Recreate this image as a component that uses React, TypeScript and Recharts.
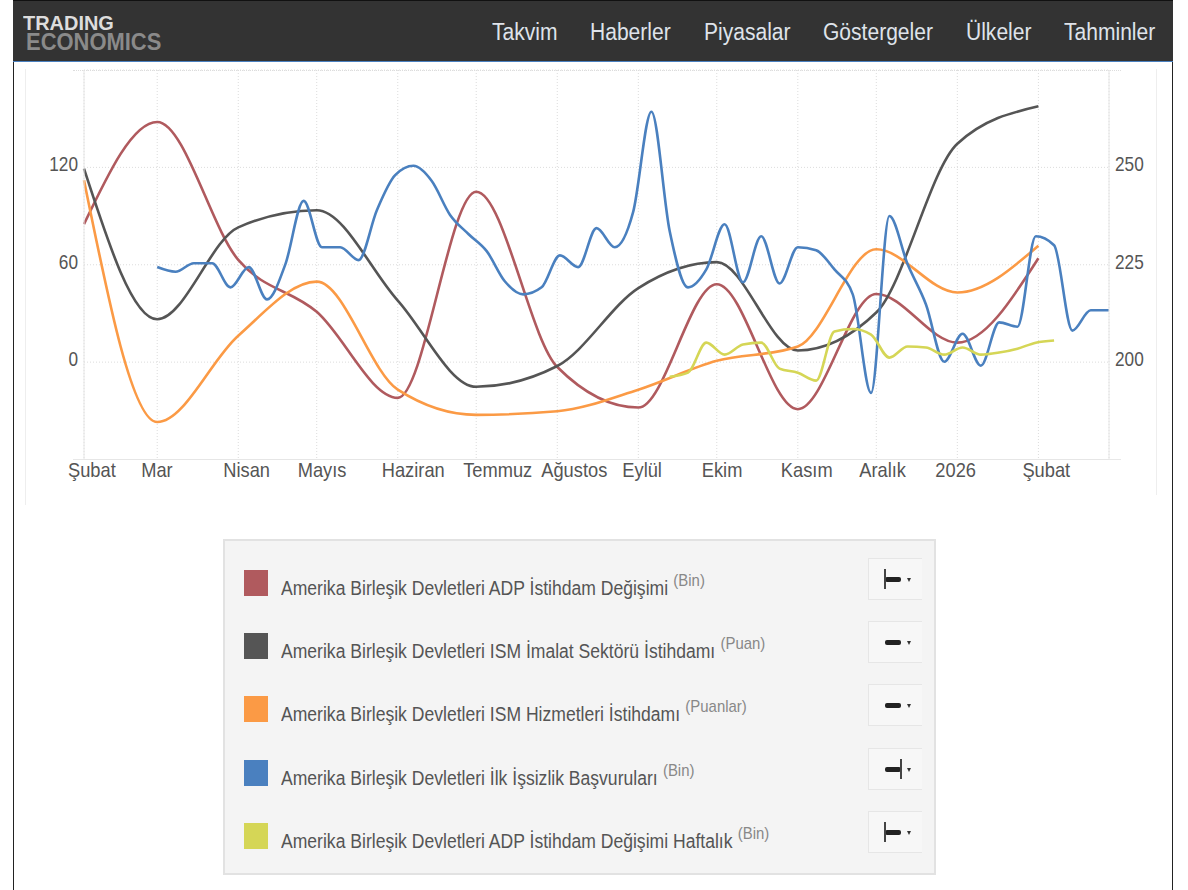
import { LineChart, Line, XAxis, YAxis, CartesianGrid } from 'recharts';

const FONT = '"Liberation Sans", Arial, sans-serif';

// days since 1 Feb 2025
const monthDays = [0, 28, 59, 89, 120, 150, 181, 212, 242, 273, 303, 334, 365];
const monthLabels = ['Şubat', 'Mar', 'Nisan', 'Mayıs', 'Haziran', 'Temmuz', 'Ağustos', 'Eylül', 'Ekim', 'Kasım', 'Aralık', '2026', 'Şubat'];
// the site's labels don't sit at a constant distance from their ticks
const labelNudge = [0, 0, 1, -3, 0, 3, 0, 0, 1, -1, -1, -6, 0];

const adpChange = [85, 148, 63, 31, -22, 105, -3, -28, 48, -29, 42, 12, 64];
const ismManufacturing = [47.6, 44.7, 46.47, 46.8, 45.06, 43.4, 43.8, 45.3, 45.8, 44.1, 44.83, 48.08, 48.8];
const ismServices = [53.52, 46.8, 49.2, 50.7, 47.7, 47.0, 47.1, 47.7, 48.5, 48.9, 51.6, 50.4, 51.7];

// weekly, from 1 Mar 2025
const claims = [
  224.4, 223.2, 225.4, 225.4, 219.2, 224.4, 216.1, 225.1, 241.4, 229.5, 229.5, 226.2, 239, 248, 250.4, 246.5, 237.8,
  232.9, 228.5, 220.7, 217.4, 219.2, 227.4, 224.4, 234.4, 229.5, 238.5, 264.3, 233.6, 219.2, 223.8, 235.4, 220.5,
  232.3, 220.2, 229.5, 228.7, 223.8, 217.4, 192.1, 237.5, 225.1, 214.8, 200.1, 207.3, 199.1, 210.2, 209.1, 232.3,
  230, 208.1, 213.3, 213.3,
];

// weekly, starts at the 29th week of the claims list
const adpWeekly = [-9, -6.5, 12, 4.6, 10.8, 12, -4, -6.5, -11.4, 18.9, 20.4, 17, 2.8, 9.6, 9, 4.6, 9, 4.6, 5.9, 8.3, 12, 13.3];

const navItems = ['Takvim', 'Haberler', 'Piyasalar', 'Göstergeler', 'Ülkeler', 'Tahminler'];
const navLeft = [492, 590, 704, 823, 966, 1064];

const legendNames = [
  'Amerika Birleşik Devletleri ADP İstihdam Değişimi',
  'Amerika Birleşik Devletleri ISM İmalat Sektörü İstihdamı',
  'Amerika Birleşik Devletleri ISM Hizmetleri İstihdamı',
  'Amerika Birleşik Devletleri İlk İşsizlik Başvuruları',
  'Amerika Birleşik Devletleri ADP İstihdam Değişimi Haftalık',
];
const legendUnits = ['(Bin)', '(Puan)', '(Puanlar)', '(Bin)', '(Bin)'];
const legendColors = ['#b05a5e', '#555555', '#fb9a45', '#4a80bf', '#d5d656'];
const legendPins = ['left', 'none', 'none', 'right', 'left'];

const monthly = (values: number[]) => values.map((v, i) => ({ day: monthDays[i], v }));
const weekly = (values: number[], startWeek = 0) => values.map((v, i) => ({ day: 28 + (startWeek + i) * 7, v }));

function XTick({ x, y, payload }: any) {
  const i = monthDays.indexOf(payload.value);
  return (
    <text transform={`translate(${x - 16 + labelNudge[i]},${y + 9}) scale(0.87,1)`} fontFamily={FONT} fontSize={21} fill="#555">
      {monthLabels[i]}
    </text>
  );
}

function LeftTick({ x, y, payload }: any) {
  if (payload.value === 180 || payload.value === -60) return null;
  return (
    <text transform={`translate(${x + 2},${y + 4}) scale(0.82,1)`} textAnchor="end" fontFamily={FONT} fontSize={21} fill="#555">
      {payload.value}
    </text>
  );
}

function RightTick({ x, y, payload }: any) {
  return (
    <text transform={`translate(${x - 2},${y + 4}) scale(0.82,1)`} fontFamily={FONT} fontSize={21} fill="#555">
      {payload.value}
    </text>
  );
}

function Pin({ kind }: { kind: string }) {
  return (
    <div style={{ position: 'absolute', left: 15, top: 0, width: 40, height: 41 }}>
      <div style={{ position: 'absolute', left: 1, top: 18, width: 16, height: 5, borderRadius: 2, background: '#222' }} />
      {kind === 'left' && <div style={{ position: 'absolute', left: 0, top: 10, width: 2, height: 20, background: '#444' }} />}
      {kind === 'right' && <div style={{ position: 'absolute', left: 16, top: 10, width: 2, height: 20, background: '#444' }} />}
      <div
        style={{
          position: 'absolute',
          left: 23,
          top: 19,
          width: 0,
          height: 0,
          borderLeft: '2.5px solid transparent',
          borderRight: '2.5px solid transparent',
          borderTop: '4px solid #333',
        }}
      />
    </div>
  );
}

export default function App() {
  return (
    <div style={{ position: 'absolute', left: 0, top: 0, width: 1188, height: 890, background: '#fff', overflow: 'hidden', fontFamily: FONT }}>
      {/* Page frame */}
      <div style={{ position: 'absolute', left: 13, top: 0, width: 1, height: 890, background: '#222' }} />
      <div style={{ position: 'absolute', left: 1172, top: 0, width: 1, height: 890, background: '#222' }} />
      <div style={{ position: 'absolute', left: 25, top: 69, width: 1, height: 436, background: '#eeeeee' }} />
      <div style={{ position: 'absolute', left: 1156, top: 69, width: 1, height: 426, background: '#eeeeee' }} />
      <div style={{ position: 'absolute', left: 73, top: 70, width: 1048, height: 0, borderTop: '1px dotted #dddddd' }} />
      <div style={{ position: 'absolute', left: 73, top: 459, width: 1048, height: 1, background: '#e8e8e8' }} />

      {/* Header */}
      <div style={{ position: 'absolute', left: 13, top: 0, width: 1160, height: 62, background: '#333', borderTop: '1px solid #111', borderBottom: '1px solid #4a80bf', boxSizing: 'border-box' }} />
      <div style={{ position: 'absolute', left: 23, top: 11, fontSize: 21, fontWeight: 700, color: '#dddddd', transform: 'scaleX(0.95)', transformOrigin: 'left', lineHeight: '24px' }}>TRADING</div>
      <div style={{ position: 'absolute', left: 26, top: 29, fontSize: 24, fontWeight: 700, color: '#8a8a8a', transform: 'scaleX(0.914)', transformOrigin: 'left', lineHeight: '26px' }}>ECONOMICS</div>
      {navItems.map((item, i) => (
        <div key={i} style={{ position: 'absolute', left: navLeft[i], top: 19, fontSize: 23, lineHeight: '27px', color: '#dfe3ea', transform: 'scaleX(0.915)', transformOrigin: 'left', whiteSpace: 'nowrap' }}>
          {item}
        </div>
      ))}

      {/* Chart */}
      <div style={{ position: 'absolute', left: 0, top: 0 }}>
        <LineChart width={1188} height={510} margin={{ top: 70, right: 19, bottom: 20.5, left: 24 }}>
          <CartesianGrid yAxisId="left" stroke="#dcdcdc" strokeDasharray="1 2" />
          <XAxis
            dataKey="day"
            type="number"
            domain={[0, 392]}
            ticks={monthDays}
            height={30}
            interval={0}
            allowDuplicatedCategory={false}
            tick={<XTick />}
            tickLine={false}
            axisLine={{ stroke: '#e6e6e6' }}
          />
          <YAxis yAxisId="left" domain={[-60, 180]} ticks={[-60, 0, 60, 120, 180]} width={60} tick={<LeftTick />} tickLine={false} axisLine={{ stroke: '#e6e6e6' }} />
          <YAxis yAxisId="right" orientation="right" domain={[175, 275]} ticks={[200, 225, 250]} width={60} tick={<RightTick />} tickLine={false} axisLine={{ stroke: '#e6e6e6' }} />
          <YAxis yAxisId="mfg" hide domain={[42, 49.5]} />
          <YAxis yAxisId="svc" hide domain={[45.76, 56.58]} />
          <Line yAxisId="left" data={monthly(adpChange)} dataKey="v" name={legendNames[0]} type="monotone" stroke={legendColors[0]} strokeWidth={2.6} dot={false} isAnimationActive={false} />
          <Line yAxisId="mfg" data={monthly(ismManufacturing)} dataKey="v" name={legendNames[1]} type="monotone" stroke={legendColors[1]} strokeWidth={2.6} dot={false} isAnimationActive={false} />
          <Line yAxisId="svc" data={monthly(ismServices)} dataKey="v" name={legendNames[2]} type="monotone" stroke={legendColors[2]} strokeWidth={2.6} dot={false} isAnimationActive={false} />
          <Line yAxisId="right" data={weekly(claims)} dataKey="v" name={legendNames[3]} type="monotone" stroke={legendColors[3]} strokeWidth={2.6} dot={false} isAnimationActive={false} />
          <Line yAxisId="left" data={weekly(adpWeekly, 28)} dataKey="v" name={legendNames[4]} type="monotone" stroke={legendColors[4]} strokeWidth={2.6} dot={false} isAnimationActive={false} />
        </LineChart>
      </div>

      {/* Legend panel */}
      <div style={{ position: 'absolute', left: 223, top: 539, width: 713, height: 336, background: '#f4f4f4', border: '2px solid #e2e2e2', boxSizing: 'border-box' }} />
      {legendNames.map((name, i) => {
        const top = 570 + i * 63.2;
        return (
          <div key={i}>
            <div style={{ position: 'absolute', left: 244, top, width: 24, height: 26, background: legendColors[i] }} />
            <div style={{ position: 'absolute', left: 281, top: top + 5, lineHeight: '26px', fontSize: 20, color: '#555', whiteSpace: 'nowrap', transform: 'scaleX(0.878)', transformOrigin: 'left' }}>
              {name}
              <span style={{ fontSize: 17, color: '#888', position: 'relative', top: -9, marginLeft: 6 }}>{legendUnits[i]}</span>
            </div>
            <div style={{ position: 'absolute', left: 868, top: top - 12, width: 54, height: 42, background: '#f7f7f7', border: '1px solid #e6e6e6', borderRight: 'none', boxSizing: 'border-box' }}>
              <Pin kind={legendPins[i]} />
            </div>
          </div>
        );
      })}
    </div>
  );
}
